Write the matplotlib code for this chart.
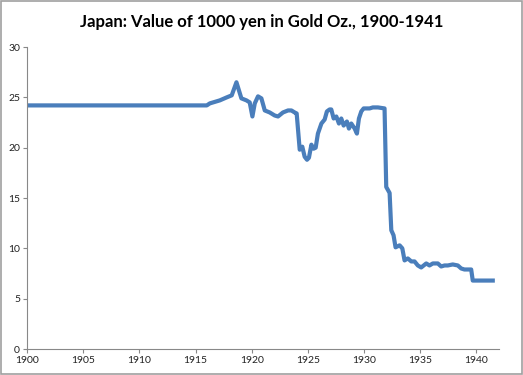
import numpy as np
import matplotlib
matplotlib.use('Agg')
import matplotlib.pyplot as plt
from matplotlib.patches import Rectangle

plt.rcParams['font.family'] = ['Lato', 'DejaVu Sans']

# value of 1000 yen in gold ounces (decimal years)
years = [1900.0, 1916.0, 1916.27, 1917.16, 1917.78, 1918.22, 1918.64, 1919.08,
         1919.53, 1919.82, 1920.06, 1920.27, 1920.56, 1920.86, 1921.16, 1921.6,
         1922.04, 1922.34, 1922.78, 1923.23, 1923.53, 1923.82, 1924.0, 1924.27,
         1924.5, 1924.71, 1924.92, 1925.09, 1925.31, 1925.51, 1925.69, 1925.89,
         1926.2, 1926.49, 1926.69, 1926.93, 1927.08, 1927.29, 1927.53, 1927.76,
         1927.97, 1928.18, 1928.47, 1928.65, 1928.86, 1929.16, 1929.36, 1929.54,
         1929.75, 1929.96, 1930.49, 1930.78, 1931.23, 1931.82, 1931.97, 1932.27,
         1932.42, 1932.62, 1932.8, 1933.16, 1933.4, 1933.6, 1933.89, 1934.2,
         1934.49, 1934.78, 1935.08, 1935.53, 1935.82, 1936.12, 1936.56, 1936.86,
         1937.16, 1937.45, 1937.89, 1938.34, 1938.64, 1938.93, 1939.53, 1939.67,
         1941.45]
gold_oz = [24.2, 24.2, 24.4, 24.7, 25.0, 25.2, 26.5, 24.9,
           24.7, 24.5, 23.1, 24.4, 25.1, 24.9, 23.7, 23.5,
           23.2, 23.1, 23.5, 23.7, 23.7, 23.5, 23.4, 19.8,
           20.1, 19.1, 18.8, 19.0, 20.3, 19.9, 20.0, 21.4,
           22.4, 22.8, 23.6, 23.8, 23.8, 22.9, 23.1, 22.4,
           22.9, 22.2, 22.6, 21.9, 22.4, 21.9, 21.4, 22.9,
           23.6, 23.9, 23.9, 24.0, 24.0, 23.9, 16.1, 15.5,
           11.8, 11.3, 10.1, 10.3, 10.0, 8.8, 9.0, 8.7,
           8.7, 8.3, 8.1, 8.5, 8.3, 8.5, 8.5, 8.2,
           8.3, 8.3, 8.4, 8.3, 8.0, 7.9, 7.9, 6.8,
           6.8]
xticks = [1900, 1905, 1910, 1915, 1920, 1925, 1930, 1935, 1940]
yticks = [0, 5, 10, 15, 20, 25, 30]

fig = plt.figure(figsize=(5.23, 3.75), dpi=100)
ax = fig.add_axes([0.0516, 0.0693, 0.9024, 0.8053])

ax.plot(years, gold_oz, color='#4a7ebb', linewidth=3.0, solid_joinstyle='round')

ax.set_xlim(1900, 1942)
ax.set_ylim(0, 30)
ax.set_xticks(xticks)
ax.set_yticks(yticks)
ax.tick_params(labelsize=7.5, length=3, color='#888888', width=0.8, pad=2,
               labelcolor='#222222')
for s in ['top', 'right']:
    ax.spines[s].set_visible(False)
for s in ['left', 'bottom']:
    ax.spines[s].set_color('#888888')
    ax.spines[s].set_linewidth(0.8)

fig.text(0.5, 0.94, 'Japan: Value of 1000 yen in Gold Oz., 1900-1941',
         ha='center', va='center', fontsize=12, fontweight='bold')

fig.patches.append(Rectangle((0.002, 0.003), 0.996, 0.994, transform=fig.transFigure,
                             fill=False, edgecolor='#a0a0a0', linewidth=1.2))

fig.savefig('out.png', dpi=100)
